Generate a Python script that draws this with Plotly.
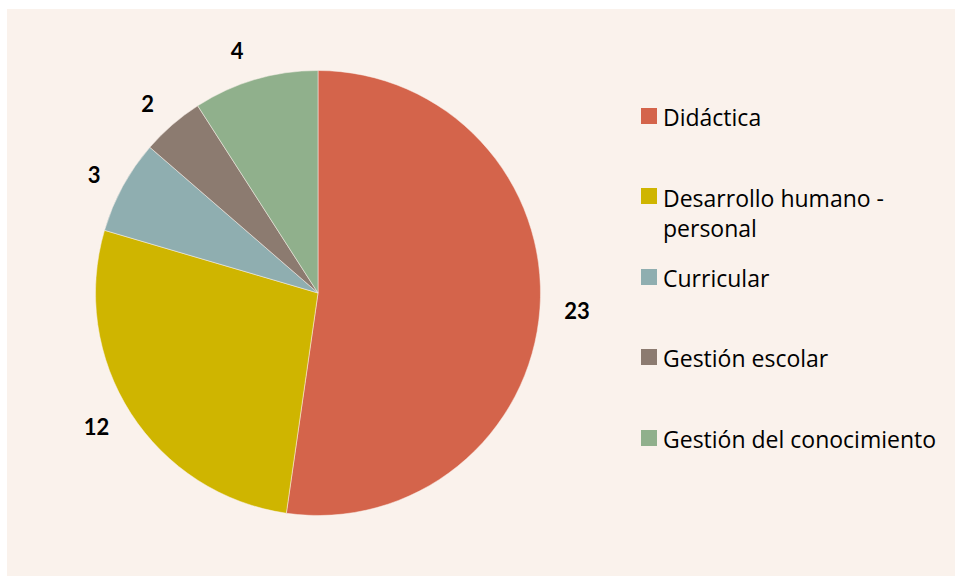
import plotly.graph_objects as go

categories = ["Didáctica", "Desarrollo humano - personal", "Curricular", "Gestión escolar", "Gestión del conocimiento"]
legend_labels = ["Didáctica", "Desarrollo humano -<br>personal", "Curricular", "Gestión escolar", "Gestión del conocimiento"]
values = [23, 12, 3, 2, 4]
colors = ["#D4644B", "#CFB500", "#8FAEB0", "#8C7B70", "#90B08C"]

W, H = 955, 576
CX, CY, R = 318, 293, 222.5
RL = 240  # radius of invisible label ring

FONT = "Lato, 'Open Sans', sans-serif"
LFONT = "'Open Sans', Lato, sans-serif"
fig = go.Figure()
# invisible ring used only to place the value labels a bit away from the pie
fig.add_trace(go.Pie(
    labels=categories, values=values, sort=False, direction="clockwise", rotation=0,
    marker=dict(colors=["rgba(0,0,0,0)"] * len(values), line=dict(width=0)),
    texttemplate="<b>%{value}</b>", textposition="outside",
    outsidetextfont=dict(family=FONT, size=22, color="#000000"),
    domain=dict(x=[(CX - RL) / W, (CX + RL) / W], y=[(H - CY - RL) / H, (H - CY + RL) / H]),
    showlegend=False, hoverinfo="skip",
))
fig.add_trace(go.Pie(
    labels=categories, values=values, sort=False, direction="clockwise", rotation=0,
    marker=dict(colors=colors, line=dict(color="#FAF2EC", width=0.5)),
    textinfo="none",
    domain=dict(x=[(CX - R) / W, (CX + R) / W], y=[(H - CY - R) / H, (H - CY + R) / H]),
    showlegend=False, hoverinfo="label+value",
))

shapes = [dict(type="rect", xref="paper", yref="paper", x0=7 / W, x1=1, y0=0, y1=1 - 9 / H,
               fillcolor="#FAF2EC", line=dict(width=0), layer="below")]
annotations = []
square_cy = [116, 196, 277, 357, 438]
text_cy = [116, 212, 277, 357, 438]
for lab, col, sy, ty in zip(legend_labels, colors, square_cy, text_cy):
    shapes.append(dict(type="rect", xref="paper", yref="paper",
                       x0=641 / W, x1=657 / W, y0=1 - (sy + 8) / H, y1=1 - (sy - 8) / H,
                       fillcolor=col, line=dict(width=0)))
    annotations.append(dict(xref="paper", yref="paper", x=661 / W, y=1 - (ty + 1) / H,
                            xanchor="left", yanchor="middle", align="left", showarrow=False,
                            text=lab, font=dict(family=LFONT, size=23, color="#000000")))

fig.update_layout(
    width=W, height=H, margin=dict(l=0, r=0, t=0, b=0),
    paper_bgcolor="#FFFFFF", plot_bgcolor="#FFFFFF",
    shapes=shapes, annotations=annotations,
)
fig.write_html("out.html", config={"displayModeBar": False},
               post_script="document.body.style.margin='0';")
